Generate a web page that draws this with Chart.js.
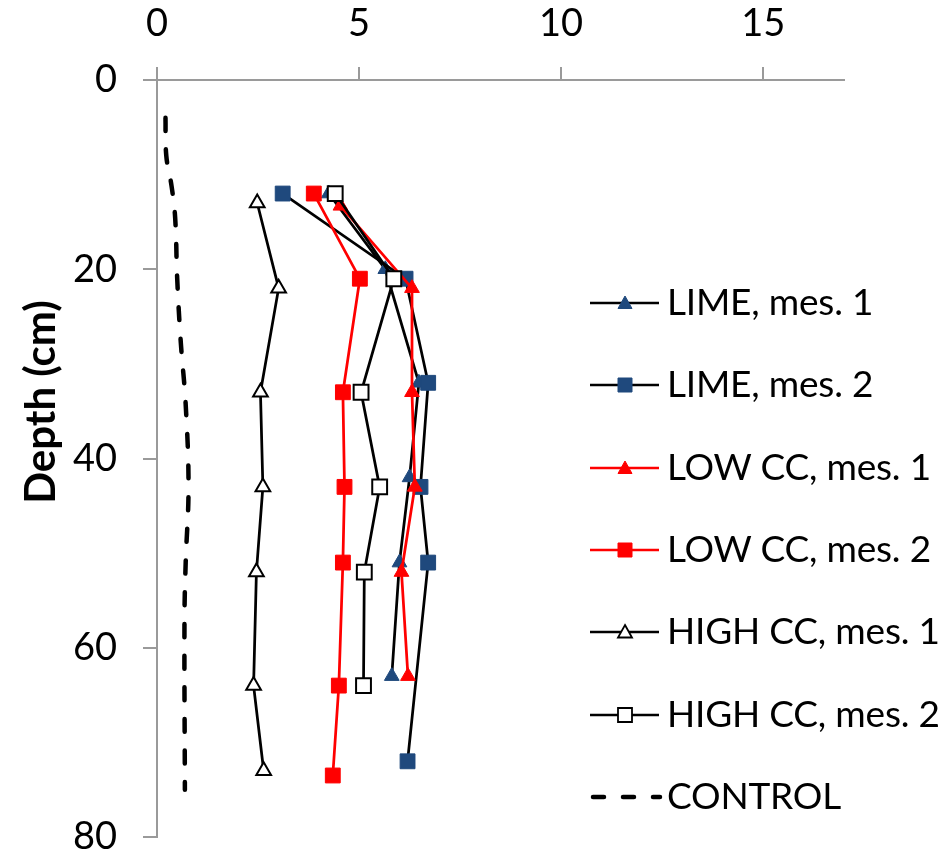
<!DOCTYPE html>
<html>
<head>
<meta charset="utf-8">
<title>Depth profiles</title>
<script src="https://cdn.jsdelivr.net/npm/chart.js@4.4.0/dist/chart.umd.min.js"></script>
<style>
  body { margin: 0; background: #fff; }
  #wrap { position: relative; width: 949px; height: 856px; font-family: Lato, "Open Sans", sans-serif; }
  #depthChart { position: absolute; left: 0; top: 0; }
  #axisTitle {
    position: absolute; left: -111px; top: 377px; width: 300px; height: 50px;
    line-height: 50px; text-align: center; font-weight: bold; font-size: 42px; color: #000;
    transform: rotate(-90deg); white-space: nowrap;
  }
  .legend-item { position: absolute; left: 588px; width: 360px; height: 46px; }
  .legend-item canvas { position: absolute; left: 0; top: 11px; }
  .legend-item span {
    position: absolute; left: 79px; top: -2px; line-height: 46px;
    font-size: 37px; letter-spacing: -0.2px; color: #000; white-space: nowrap;
  }
</style>
</head>
<body>
<div id="wrap">
  <canvas id="depthChart" width="949" height="856"></canvas>
  <div id="axisTitle">Depth (cm)</div>
  <div id="legend"></div>
</div>
<script>
// measurement depth (cm) and value for each profile
const limeMes1X = [4.25, 5.65, 6.48, 6.25, 6.0, 5.81];
const limeMes1Depth = [12, 20, 32, 42, 51, 63];
const limeMes2X = [3.11, 6.15, 6.71, 6.52, 6.71, 6.2];
const limeMes2Depth = [12, 21, 32, 43, 51, 72];
const lowMes1X = [4.54, 6.31, 6.31, 6.38, 6.05, 6.21];
const lowMes1Depth = [13.3, 22, 33, 43, 52, 63];
const lowMes2X = [3.88, 5.02, 4.6, 4.64, 4.6, 4.5, 4.35];
const lowMes2Depth = [12, 21, 33, 43, 51, 64, 73.5];
const highMes1X = [2.48, 3.01, 2.56, 2.62, 2.46, 2.39, 2.64];
const highMes1Depth = [13, 22, 33, 43, 52, 64, 73];
const highMes2X = [4.41, 5.86, 5.05, 5.51, 5.13, 5.11];
const highMes2Depth = [12, 21, 33, 43, 52, 64];
const controlX = [0.21, 0.23, 0.36, 0.45, 0.5, 0.59, 0.71, 0.78, 0.71, 0.68, 0.69];
const controlDepth = [4, 8, 11.2, 14.6, 21, 27.8, 34.3, 43, 51, 57, 75];

const xTicks = [0, 5, 10, 15];
const depthTicks = [0, 20, 40, 60, 80];

const BLUE = '#1f497d';
const RED = '#ff0000';

function pairs(xs, ys) {
  return xs.map((v, i) => ({ x: v, y: ys[i] }));
}

const series = [
  { label: 'LIME, mes. 1', data: pairs(limeMes1X, limeMes1Depth), line: '#000', marker: 'triangle', fill: BLUE, edge: BLUE },
  { label: 'LIME, mes. 2', data: pairs(limeMes2X, limeMes2Depth), line: '#000', marker: 'rect', fill: BLUE, edge: BLUE },
  { label: 'LOW CC, mes. 1', data: pairs(lowMes1X, lowMes1Depth), line: RED, marker: 'triangle', fill: RED, edge: RED },
  { label: 'LOW CC, mes. 2', data: pairs(lowMes2X, lowMes2Depth), line: RED, marker: 'rect', fill: RED, edge: RED },
  { label: 'HIGH CC, mes. 1', data: pairs(highMes1X, highMes1Depth), line: '#000', marker: 'triangle', fill: '#fff', edge: '#000' },
  { label: 'HIGH CC, mes. 2', data: pairs(highMes2X, highMes2Depth), line: '#000', marker: 'rect', fill: '#fff', edge: '#000' },
  { label: 'CONTROL', data: pairs(controlX, controlDepth), line: '#000', marker: null, dashed: true }
];

const datasets = series.map((s, i) => {
  const open = s.fill === '#fff';
  return {
    label: s.label,
    data: s.data,
    showLine: true,
    order: -i,
    borderColor: s.line,
    borderWidth: s.dashed ? 4.5 : 2.75,
    borderDash: s.dashed ? [13, 18.7] : [],
    borderCapStyle: s.dashed ? 'round' : 'butt',
    tension: s.dashed ? 0.4 : 0,
    pointRadius: s.marker ? (s.marker === 'rect' ? 10.5 : 8.5) : 0,
    pointStyle: s.marker || 'circle',
    pointBackgroundColor: s.fill,
    pointBorderColor: s.edge,
    pointBorderWidth: open ? 2 : 1
  };
});

Chart.defaults.font.family = 'Lato, "Open Sans", sans-serif';
Chart.defaults.font.size = 38;
Chart.defaults.color = '#000';

const AXIS = '#9a9a9a';

new Chart(document.getElementById('depthChart'), {
  type: 'scatter',
  data: { datasets },
  options: {
    responsive: false,
    animation: false,
    devicePixelRatio: 1,
    layout: { padding: { left: 0, top: 0, right: 105, bottom: 19 } },
    plugins: { legend: { display: false }, tooltip: { enabled: false } },
    scales: {
      x: {
        type: 'linear',
        position: 'top',
        min: 0,
        max: 17,
        ticks: { stepSize: 5, padding: 20 },
        afterBuildTicks: (scale) => {
          scale.ticks = xTicks.map((v) => ({ value: v }));
        },
        afterFit: (scale) => {
          scale.height = 80;
          scale.paddingLeft = 0;
          scale.paddingRight = 0;
        },
        grid: { drawOnChartArea: false, drawTicks: true, tickLength: 13, color: AXIS, lineWidth: 2 },
        border: { display: true, color: AXIS, width: 2 }
      },
      y: {
        type: 'linear',
        reverse: true,
        min: 0,
        max: 80,
        ticks: { stepSize: 20, padding: 26 },
        afterBuildTicks: (scale) => {
          scale.ticks = depthTicks.map((v) => ({ value: v }));
        },
        afterFit: (scale) => {
          scale.width = 157;
          scale.paddingTop = 0;
          scale.paddingBottom = 0;
        },
        grid: { drawOnChartArea: false, drawTicks: true, tickLength: 14, color: AXIS, lineWidth: 2 },
        border: { display: true, color: AXIS, width: 2 }
      }
    }
  }
});

// legend on the right, line sample with its marker and the series name
function drawSwatch(cv, s) {
  const ctx = cv.getContext('2d');
  const cy = 12;
  ctx.lineWidth = s.dashed ? 4.5 : 2.3;
  ctx.strokeStyle = s.line;
  if (s.dashed) {
    ctx.setLineDash([11, 19]);
    ctx.lineCap = 'round';
    ctx.beginPath();
    ctx.moveTo(5, cy);
    ctx.lineTo(72, cy);
    ctx.stroke();
    return;
  }
  ctx.beginPath();
  ctx.moveTo(2, cy);
  ctx.lineTo(71, cy);
  ctx.stroke();
  const cx = 37;
  ctx.fillStyle = s.fill;
  ctx.strokeStyle = s.edge;
  ctx.lineWidth = s.fill === '#fff' ? 1.8 : 1;
  ctx.beginPath();
  if (s.marker === 'rect') {
    ctx.rect(cx - 7, cy - 7, 14, 14);
  } else {
    ctx.moveTo(cx, cy - 7);
    ctx.lineTo(cx + 7, cy + 5.5);
    ctx.lineTo(cx - 7, cy + 5.5);
    ctx.closePath();
  }
  ctx.fill();
  ctx.stroke();
}

const legendEl = document.getElementById('legend');
series.forEach((s, i) => {
  const item = document.createElement('div');
  item.className = 'legend-item';
  item.style.top = (303 + i * 82.3 - 23) + 'px';
  const cv = document.createElement('canvas');
  cv.width = 76;
  cv.height = 24;
  drawSwatch(cv, s);
  const txt = document.createElement('span');
  txt.textContent = s.label;
  item.appendChild(cv);
  item.appendChild(txt);
  legendEl.appendChild(item);
});
</script>
</body>
</html>
